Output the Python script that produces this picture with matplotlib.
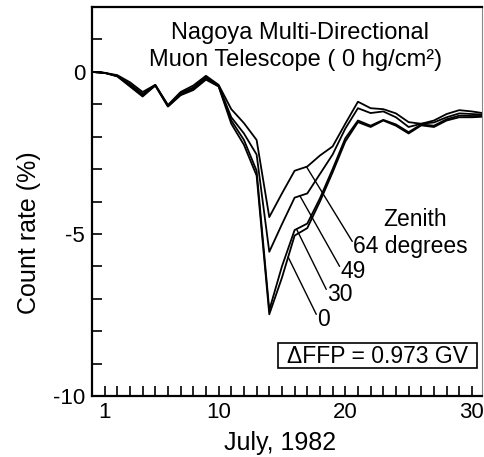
import numpy as np
import matplotlib
matplotlib.use("Agg")
import matplotlib.pyplot as plt
from matplotlib.patches import Rectangle

plt.rcParams["font.family"] = ["Liberation Sans", "DejaVu Sans"]
plt.rcParams["axes.unicode_minus"] = False

# Daily count-rate change (%) for each zenith angle, July 1982
days = list(range(0, 32))
zen64 = [0.00, -0.03, -0.10, -0.32, -0.62, -0.40, -1.02, -0.62, -0.42, -0.12,
         -0.40, -1.15, -1.58, -2.10, -4.48, -3.75, -3.05, -2.92, -2.58, -2.30,
         -1.60, -0.92, -1.12, -1.15, -1.28, -1.55, -1.60, -1.50, -1.30, -1.18,
         -1.22, -1.28]
zen49 = [0.00, -0.03, -0.12, -0.38, -0.68, -0.40, -1.05, -0.66, -0.48, -0.16,
         -0.42, -1.40, -1.90, -2.55, -5.55, -4.70, -3.88, -3.75, -3.15, -2.55,
         -1.75, -1.12, -1.27, -1.22, -1.40, -1.70, -1.60, -1.56, -1.40, -1.28,
         -1.30, -1.32]
zen30 = [0.00, -0.03, -0.13, -0.42, -0.72, -0.42, -1.06, -0.70, -0.52, -0.20,
         -0.44, -1.50, -2.10, -3.05, -7.35, -6.00, -4.88, -4.68, -3.90, -3.00,
         -2.05, -1.50, -1.66, -1.48, -1.62, -1.86, -1.62, -1.66, -1.46, -1.35,
         -1.36, -1.36]
zen0 = [0.00, -0.03, -0.14, -0.45, -0.76, -0.42, -1.07, -0.72, -0.56, -0.24,
        -0.45, -1.60, -2.25, -3.20, -7.48, -6.35, -5.05, -4.82, -4.00, -3.10,
        -2.15, -1.55, -1.70, -1.50, -1.66, -1.90, -1.65, -1.70, -1.50, -1.40,
        -1.40, -1.38]

labels = ["64 degrees", "49", "30", "0"]
series = [zen64, zen49, zen30, zen0]

fig = plt.figure(figsize=(4.84, 4.57), dpi=100)
ax = fig.add_axes([0.190, 0.1335, 0.806, 0.851])

for vals in series:
    ax.plot(days, vals, color="black", lw=1.3)

ax.set_xlim(0, 30.8)
ax.set_ylim(-10, 2)

ax.set_xticks([1, 10, 20, 30])
ax.set_xticks(range(1, 31), minor=True)
ax.set_yticks([0, -5, -10])
ax.set_yticks(range(-10, 3), minor=True)
ax.tick_params(which="both", direction="in", width=1.2, labelsize=16)
ax.tick_params(axis="x", which="both", length=7, pad=4)
ax.tick_params(axis="y", which="both", length=7.5, pad=5)

for side in ["left", "bottom", "top"]:
    ax.spines[side].set_linewidth(1.6)
ax.spines["right"].set_linewidth(0.8)
ax.spines["right"].set_color("#888888")

ax.set_xlabel("July, 1982", fontsize=18)
ax.xaxis.set_label_coords(0.482, -0.09)
ax.set_ylabel("Count rate (%)", fontsize=18)
ax.yaxis.set_label_coords(-0.130, 0.42)

ax.text(0.533, 0.933, "Nagoya Multi-Directional", transform=ax.transAxes,
        ha="center", va="center", fontsize=17)
ax.text(0.521, 0.864, "Muon Telescope ( 0 hg/cm²)", transform=ax.transAxes,
        ha="center", va="center", fontsize=17)

ax.text(25.5, -4.55, "Zenith", ha="center", va="center", fontsize=16.5)

# leader lines from curves to zenith labels
leader_from = [16.94, 16.42, 16.15, 15.49]
label_pos = [(20.6, -5.38), (19.6, -6.15), (18.55, -6.86), (17.76, -7.63)]
for lab, vals, x0, (lx, ly) in zip(labels, series, leader_from, label_pos):
    y0 = np.interp(x0, days, vals)
    ax.annotate("", xy=(x0, y0), xytext=(lx - 0.05, ly + 0.15),
                arrowprops=dict(arrowstyle="-", color="black", lw=1.0,
                                shrinkA=0, shrinkB=0))
    ax.text(lx, ly, lab, ha="left", va="center", fontsize=16.5)

ax.add_patch(Rectangle((0.477, 0.072), 0.510, 0.064, transform=ax.transAxes,
                       fc="white", ec="black", lw=1.2))
ax.text(0.732, 0.102, "\u0394FFP = 0.973 GV", transform=ax.transAxes,
        ha="center", va="center", fontsize=16.5)

fig.savefig("out.png", dpi=100)
